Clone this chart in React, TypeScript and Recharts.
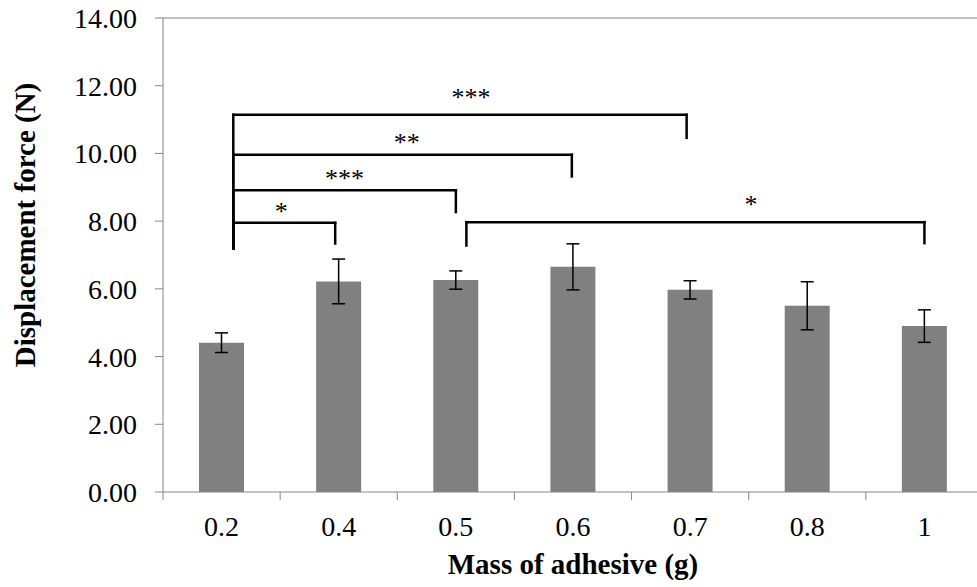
import { BarChart, Bar, XAxis, YAxis, ErrorBar, ReferenceLine, ReferenceDot } from "recharts";

const masses = ["0.2", "0.4", "0.5", "0.6", "0.7", "0.8", "1"];
const forces = [4.41, 6.22, 6.26, 6.65, 5.97, 5.5, 4.9];
const sdev = [0.29, 0.66, 0.27, 0.68, 0.27, 0.71, 0.48];
const yTicks = [0, 2, 4, 6, 8, 10, 12, 14];

// significance brackets, x in category units (0..7 across the plot)
const bracketX1 = [0.6, 0.6, 0.6, 0.6, 2.59];
const bracketX2 = [1.47, 2.5, 3.49, 4.47, 6.5];
const bracketY = [7.95, 8.91, 9.96, 11.14, 7.97];
const dropLeft = [7.19, 7.19, 7.19, 7.19, 7.28];
const dropRight = [7.34, 8.27, 9.32, 10.46, 7.35];
const starText = ["*", "***", "**", "***", "*"];
const starX = [1.01, 1.55, 2.08, 2.63, 5.02];
const starY = [8.4, 9.35, 10.42, 11.77, 8.59];

const data = masses.map((m, i) => ({ mass: m, pos: i + 0.5, force: forces[i], sd: sdev[i] }));
const bounds = masses.map((_, i) => i).concat(masses.length);

const serif = "'Liberation Serif', 'Times New Roman', serif";
const axisGrey = "#868686";

export default function App() {
  return (
    <div style={{ position: "absolute", left: 0, top: 0, width: 977, height: 587, overflow: "hidden", background: "#fff" }}>
      <BarChart width={1000} height={587} data={data} margin={{ top: 18, right: 17, bottom: 27, left: 63 }}>
        <XAxis
          xAxisId="cat"
          dataKey="mass"
          tickLine={false}
          axisLine={false}
          tickSize={0}
          tickMargin={16}
          height={60}
          tick={{ fill: "#000", fontSize: 28, fontFamily: serif }}
          label={{
            content: ({ viewBox }: any) => (
              <text
                x={viewBox.x + viewBox.width / 2}
                y={viewBox.y + 74}
                textAnchor="middle"
                fontFamily={serif}
                fontSize={29}
                fontWeight="bold"
                fill="#000"
              >
                Mass of adhesive (g)
              </text>
            ),
          }}
        />
        <XAxis
          xAxisId="base"
          dataKey="pos"
          type="number"
          domain={[0, masses.length]}
          allowDataOverflow
          ticks={bounds}
          interval={0}
          tick={() => <g />}
          tickSize={8}
          tickLine={{ stroke: axisGrey }}
          height={8}
          stroke={axisGrey}
        />
        <YAxis
          domain={[0, 14]}
          ticks={yTicks}
          tickFormatter={(v: number) => v.toFixed(2)}
          tickSize={8}
          tickMargin={18}
          width={100}
          stroke={axisGrey}
          tick={{ fill: "#000", fontSize: 28, fontFamily: serif }}
          label={{
            content: ({ viewBox }: any) => {
              const cx = viewBox.x - 38;
              const cy = viewBox.y + viewBox.height / 2 - 30;
              return (
                <text
                  x={cx}
                  y={cy}
                  transform={`rotate(-90 ${cx} ${cy})`}
                  textAnchor="middle"
                  dominantBaseline="central"
                  fontFamily={serif}
                  fontSize={29}
                  fontWeight="bold"
                  fill="#000"
                >
                  Displacement force (N)
                </text>
              );
            },
          }}
        />
        <ReferenceLine xAxisId="base" y={14} stroke={axisGrey} />
        <Bar xAxisId="cat" dataKey="force" fill="#808080" barSize={45} isAnimationActive={false}>
          <ErrorBar dataKey="sd" direction="y" width={6.5} stroke="#000" strokeWidth={1.5} />
        </Bar>
        {bracketY.map((y, i) => [
          <ReferenceLine
            key={`h${i}`}
            xAxisId="base"
            ifOverflow="visible"
            segment={[{ x: bracketX1[i], y }, { x: bracketX2[i], y }]}
            stroke="#000"
            strokeWidth={2.5}
            strokeLinecap="square"
          />,
          <ReferenceLine
            key={`l${i}`}
            xAxisId="base"
            ifOverflow="visible"
            segment={[{ x: bracketX1[i], y }, { x: bracketX1[i], y: dropLeft[i] }]}
            stroke="#000"
            strokeWidth={2.5}
            strokeLinecap="square"
          />,
          <ReferenceLine
            key={`r${i}`}
            xAxisId="base"
            ifOverflow="visible"
            segment={[{ x: bracketX2[i], y }, { x: bracketX2[i], y: dropRight[i] }]}
            stroke="#000"
            strokeWidth={2.5}
            strokeLinecap="square"
          />,
        ])}
        {starText.map((s, i) => (
          <ReferenceDot
            key={`s${i}`}
            xAxisId="base"
            ifOverflow="visible"
            x={starX[i]}
            y={starY[i]}
            shape={(p: any) => (
              <text x={p.cx} y={p.cy} dy={12} textAnchor="middle" fontFamily={serif} fontSize={26} fill="#000">
                {s}
              </text>
            )}
          />
        ))}
      </BarChart>
    </div>
  );
}
